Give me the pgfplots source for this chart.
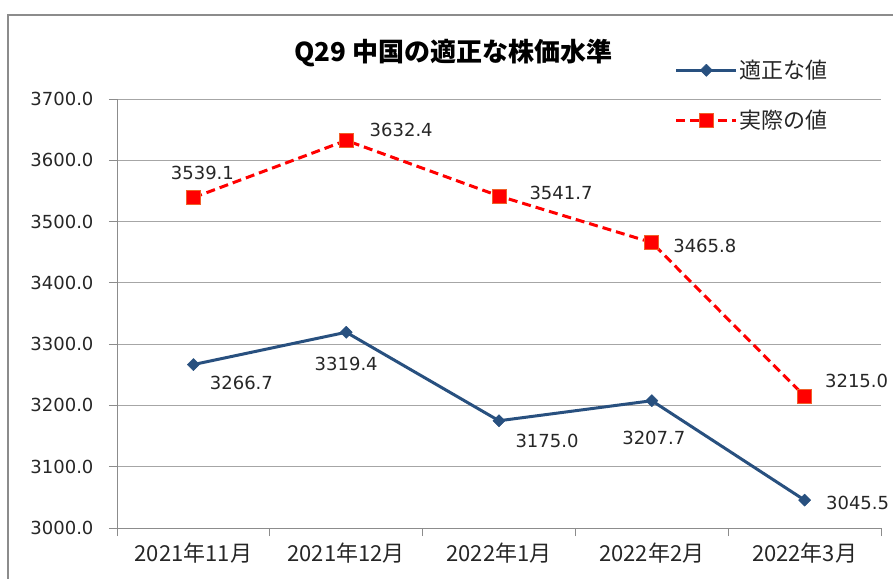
\documentclass[border=0pt]{standalone}
\usepackage{fontspec}
\setmainfont{DejaVu Sans}
\newfontfamily\cjk{Noto Sans CJK JP}
\usepackage{pgfplots}
\usepackage{pgfplotstable}
\pgfplotsset{compat=1.18}
\definecolor{fair}{HTML}{28507F}
\definecolor{actual}{HTML}{FF0000}
\definecolor{mkedge}{HTML}{F0602A}
\definecolor{gridc}{HTML}{A6A6A6}
\definecolor{axgray}{HTML}{8C8C8C}
\definecolor{ink}{HTML}{262626}

% x, value, label offset (pt), label text
\pgfplotstableread{
x y dx dy lab
0 3266.7 48 -18 3266.7
1 3319.4 0 -32 3319.4
2 3175.0 48 -20 3175.0
3 3207.7 2 -37 3207.7
4 3045.5 53 -3 3045.5
}\fairtab
\pgfplotstableread{
x y dx dy lab
0 3539.1 9 25 3539.1
1 3632.4 55 10 3632.4
2 3541.7 62 3 3541.7
3 3465.8 53 -3 3465.8
4 3215.0 52 15 3215.0
}\acttab

\pgfplotsset{
  lbl/.style={
    nodes near coords, point meta=explicit symbolic,
    visualization depends on={\thisrow{dx}\as\dx},
    visualization depends on={\thisrow{dy}\as\dy},
    every node near coord/.append style={anchor=center, xshift=\dx pt, yshift=\dy pt,
      font=\fontsize{18}{18}\selectfont, text=ink},
  },
}

\begin{document}
\begin{tikzpicture}[x=1pt,y=1pt]
\useasboundingbox (0,0) rectangle (893,-578);
\draw[axgray, line width=1.2pt] (8,-590) -- (8,-15) -- (900,-15);
\begin{axis}[
  at={(117pt,-528pt)}, anchor=south west,
  scale only axis, width=764pt, height=429pt,
  xmin=-0.5, xmax=4.5, ymin=3000, ymax=3700,
  clip=false,
  axis x line=bottom, axis y line=left,
  axis line style={axgray, line width=1pt, -},
  tick align=outside, major tick length=8pt,
  tick style={axgray, line width=1pt},
  xtick={-0.5,0.5,1.5,2.5,3.5,4.5}, xticklabels={},
  extra x ticks={0,1,2,3,4},
  extra x tick labels={2021年11月,2021年12月,2022年1月,2022年2月,2022年3月},
  extra x tick style={major tick length=0pt, grid=none},
  x tick label style={font=\cjk\fontsize{22}{22}\selectfont, text=ink, yshift=-11pt},
  ytick={3000,3100,...,3700},
  ymajorgrids, grid style={gridc, line width=1pt},
  /pgf/number format/assume math mode=true,
  yticklabel={\pgfmathprintnumber[fixed,fixed zerofill,precision=1,1000 sep={}]{\tick}},
  y tick label style={font=\fontsize{18}{18}\selectfont, text=ink, xshift=-12pt},
  title={\cjk\bfseries Q29 中国の適正な株価水準},
  title style={at={(0.44,1.094)}, anchor=center, font=\fontsize{26}{26}\selectfont},
  legend image code/.code={\draw[mark repeat=2, mark phase=2, #1] plot coordinates {(0pt,0pt) (30pt,0pt) (60pt,0pt)};},
  legend style={at={(0.726,1.10)}, anchor=north west, draw=none, fill=none,
    font=\cjk\fontsize{22}{22}\selectfont, text=ink, row sep=26pt},
  legend cell align=left,
]
\addplot[fair, line width=3pt, line join=round, mark=square*, mark size=4.3pt,
  mark options={solid, rotate=45, fill=fair, line width=0.5pt}, lbl]
  table[x=x, y=y, meta=lab] {\fairtab};
\addlegendentry{適正な値}
\addplot[actual, line width=3pt, dash pattern=on 9pt off 5pt, mark=square*, mark size=7pt,
  mark options={solid, fill=actual, draw=mkedge, line width=1pt}, lbl]
  table[x=x, y=y, meta=lab] {\acttab};
\addlegendentry{実際の値}
\end{axis}
\end{tikzpicture}
\end{document}
